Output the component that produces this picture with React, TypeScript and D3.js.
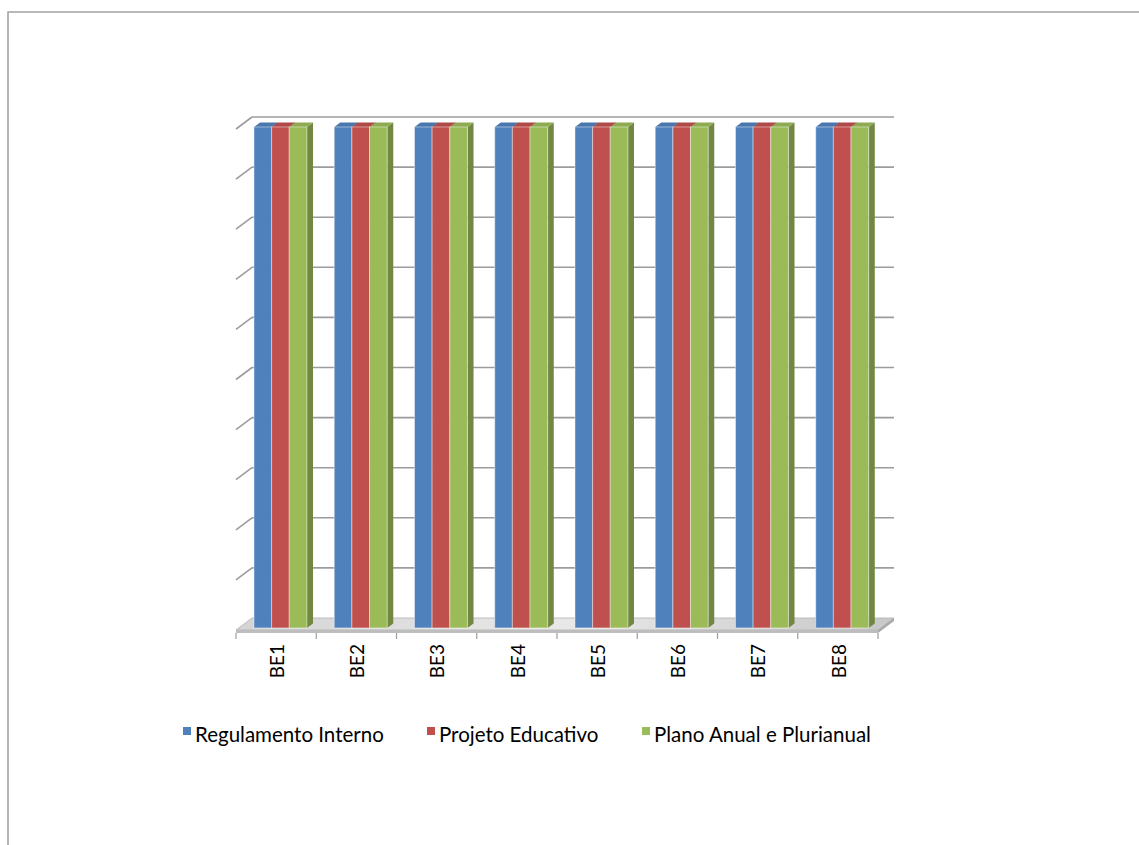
import { useEffect, useRef } from 'react';
import * as d3 from 'd3';

const categories = ['BE1', 'BE2', 'BE3', 'BE4', 'BE5', 'BE6', 'BE7', 'BE8'];
const seriesNames = ['Regulamento Interno', 'Projeto Educativo', 'Plano Anual e Plurianual'];
const regulamentoInterno = [100, 100, 100, 100, 100, 100, 100, 100];
const projetoEducativo = [100, 100, 100, 100, 100, 100, 100, 100];
const planoAnual = [100, 100, 100, 100, 100, 100, 100, 100];
const seriesColors = ['#4F81BD', '#C0504D', '#9BBB59'];
const legendX = [195, 439, 654];

const App = () => {
	const ref = useRef<SVGSVGElement>(null);

	useEffect(() => {
		const svg = d3.select(ref.current);
		svg.selectAll('*').remove();

		// back wall of the 3d plot, and the depth offset towards the viewer
		const back = { left: 252, right: 894, top: 117, bottom: 618 };
		const depth = { dx: -16, dy: 12 };
		const proj = (x: number, y: number, z: number): [number, number] => [x + depth.dx * z, y + depth.dy * z];
		const pts = (p: [number, number][]) => p.map((d) => d.join(',')).join(' ');

		const x0 = d3.scaleBand().domain(categories).range([back.left, back.right]);
		const bw = x0.bandwidth();
		const x1 = d3.scaleBand().domain(seriesNames).range([bw * 0.19, bw * 0.85]);
		const y = d3.scaleLinear().domain([0, 100]).range([back.bottom, back.top]);

		const font = 'Lato, "Liberation Sans", sans-serif';

		// outer frame
		svg.append('path').attr('d', 'M8,900 L8,12 L1200,12').attr('fill', 'none').attr('stroke', '#a3a3a3').attr('stroke-width', 1.6);

		const defs = svg.append('defs');
		const fg = defs.append('linearGradient').attr('id', 'floorGrad').attr('x1', 0).attr('x2', 1).attr('y1', 0).attr('y2', 0);
		fg.append('stop').attr('offset', '0%').attr('stop-color', '#d4d4d4');
		fg.append('stop').attr('offset', '50%').attr('stop-color', '#e8e8e8');
		fg.append('stop').attr('offset', '100%').attr('stop-color', '#c8c8c8');

		const ticks = y.ticks(10).filter((t) => t > 0);

		// back wall gridlines
		svg.append('g')
			.selectAll('line')
			.data(ticks)
			.join('line')
			.attr('x1', back.left)
			.attr('x2', back.right)
			.attr('y1', (d) => y(d))
			.attr('y2', (d) => y(d))
			.attr('stroke', '#9c9c9c')
			.attr('stroke-width', 1.6);

		// side wall gridlines
		svg.append('g')
			.selectAll('line')
			.data(ticks)
			.join('line')
			.attr('x1', back.left)
			.attr('y1', (d) => y(d))
			.attr('x2', proj(back.left, 0, 1)[0])
			.attr('y2', (d) => proj(0, y(d), 1)[1])
			.attr('stroke', '#9c9c9c')
			.attr('stroke-width', 1.6);

		// floor
		const fl = svg.append('g');
		fl.append('polygon')
			.attr('points', pts([proj(back.left, back.bottom, 0), proj(back.right, back.bottom, 0), proj(back.right, back.bottom, 1), proj(back.left, back.bottom, 1)]))
			.attr('fill', 'url(#floorGrad)')
			.attr('stroke', '#b0b0b0')
			.attr('stroke-width', 0.8);
		const [fx0, fy] = proj(back.left, back.bottom, 1);
		const [fx1] = proj(back.right, back.bottom, 1);
		fl.append('rect').attr('x', fx0).attr('y', fy).attr('width', fx1 - fx0).attr('height', 3).attr('fill', '#bdbdbd');
		fl.append('polygon')
			.attr('points', pts([[fx1, fy], proj(back.right, back.bottom, 0), [back.right, back.bottom + 3], [fx1, fy + 3]]))
			.attr('fill', '#a8a8a8');

		// category ticks
		const bounds = [...categories.map((c) => x0(c) as number), back.right];
		fl.selectAll('line.tk')
			.data(bounds)
			.join('line')
			.attr('class', 'tk')
			.attr('x1', (d) => proj(d, 0, 1)[0])
			.attr('x2', (d) => proj(d, 0, 1)[0])
			.attr('y1', fy + 3)
			.attr('y2', fy + 9)
			.attr('stroke', '#9c9c9c')
			.attr('stroke-width', 1.2);

		// bars
		const seriesValues = [regulamentoInterno, projetoEducativo, planoAnual];
		const zF = 0.83;
		const zB = 0.45;
		const bars = svg.append('g');
		categories.forEach((c, ci) => {
			seriesNames.forEach((s, si) => {
				const v = seriesValues[si][ci];
				const xl = (x0(c) as number) + (x1(s) as number);
				const xr = xl + x1.bandwidth();
				const yt = y(v);
				const yb = y(0);
				const col = d3.color(seriesColors[si]) as d3.RGBColor;
				const g = bars.append('g');
				// side face
				g.append('polygon')
					.attr('points', pts([proj(xr, yt, zF), proj(xr, yt, zB), proj(xr, yb, zB), proj(xr, yb, zF)]))
					.attr('fill', col.darker(0.9).toString());
				// top face
				g.append('polygon')
					.attr('points', pts([proj(xl, yt, zF), proj(xr, yt, zF), proj(xr, yt, zB), proj(xl, yt, zB)]))
					.attr('fill', col.darker(0.25).toString());
				// front face
				const [ax, ay] = proj(xl, yt, zF);
				const [bx, by] = proj(xr, yb, zF);
				g.append('rect')
					.attr('x', ax)
					.attr('y', ay)
					.attr('width', bx - ax)
					.attr('height', by - ay)
					.attr('fill', seriesColors[si])
					.attr('stroke', 'rgba(255,255,255,0.45)')
					.attr('stroke-width', 1);
			});
		});

		// category labels
		svg.append('g')
			.selectAll('text')
			.data(categories)
			.join('text')
			.attr('transform', (d) => `translate(${proj((x0(d) as number) + bw / 2, 0, 1)[0] + 1},${fy + 14}) rotate(-90)`)
			.attr('text-anchor', 'end')
			.attr('dy', '0.36em')
			.style('font-family', font)
			.style('font-size', '19px')
			.attr('fill', '#000')
			.text((d) => d);

		// legend
		const lg = svg.append('g');
		seriesNames.forEach((s, i) => {
			lg.append('rect').attr('x', legendX[i] - 12).attr('y', 727).attr('width', 8).attr('height', 8).attr('fill', seriesColors[i]);
			lg.append('text')
				.attr('x', legendX[i])
				.attr('y', 742)
				.style('font-family', font)
				.style('font-size', '20.5px')
				.attr('fill', '#000')
				.text(s);
		});
	}, []);

	return <svg ref={ref} width={1139} height={845} style={{ position: 'absolute', left: 0, top: 0 }}></svg>;
};

export default App;
